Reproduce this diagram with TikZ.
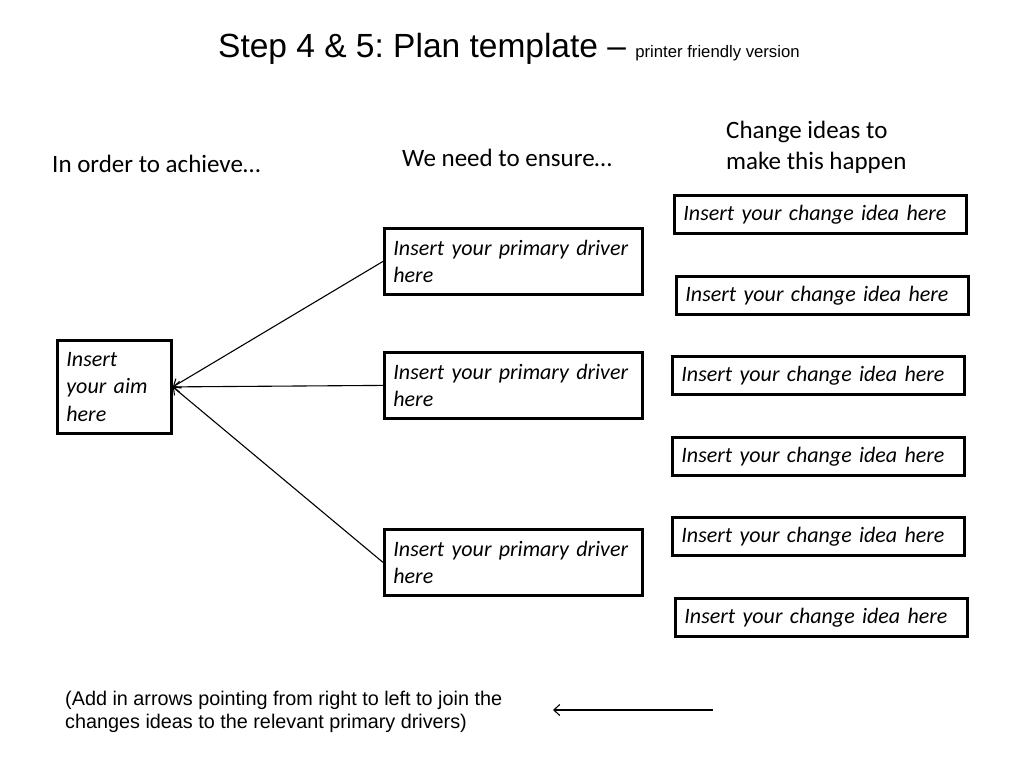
\documentclass[tikz,border=0pt]{standalone}
\usepackage{fontspec}
\setmainfont{Carlito}
\newfontfamily\arialfont{Liberation Sans}
\usetikzlibrary{arrows.meta}
\frenchspacing

\begin{document}
\begin{tikzpicture}[x=1pt, y=-1pt, box/.style={draw, line width=2.8pt, inner xsep=9pt, inner ysep=0pt, align=left, anchor=north west, font=\fontsize{22}{27.5}\selectfont\itshape}, aimbox/.style={box, text width=96pt, minimum height=93pt}, driver/.style={box, text width=240pt, minimum height=66pt}, idea/.style={box, text width=274pt, minimum height=38pt}, heading/.style={inner sep=0pt, align=left, font=\fontsize{25}{30.5}\selectfont}, note/.style={inner sep=0pt, align=left, anchor=north west, font=\arialfont\fontsize{19.8}{23}\selectfont}, n/.style={-{Straight Barb[length=6pt, width=11pt]}, line width=1.1pt}]
            \useasboundingbox (0,0) rectangle (1024,768);
            % title
            \node[inner sep=0pt, anchor=base west] (title) at (218,57) {\arialfont\fontsize{33.5}{40}\selectfont Step 4 \& 5: Plan template – {\fontsize{16.7}{20}\selectfont printer friendly version}};
            % headings
            \node[heading, anchor=base west] (achieve) at (52,172) {In order to achieve…};
            \node[heading, anchor=base west] (ensure) at (402,166) {We need to ensure…};
            \node[heading, anchor=north west] (ideas) at (726,121) {Change ideas to\\make this happen};
            % nodes
            \node[aimbox] (aim) at (56,339) {Insert\\your aim\\here};
            \node[driver] (drv1) at (383,227) {Insert your primary driver here};
            \node[driver] (drv2) at (383,351) {Insert your primary driver here};
            \node[driver] (drv3) at (383,528) {Insert your primary driver here};
            \node[idea] (idea1) at (673,194) {Insert your change idea here};
            \node[idea] (idea2) at (675,275) {Insert your change idea here};
            \node[idea] (idea3) at (671,355) {Insert your change idea here};
            \node[idea] (idea4) at (671,436) {Insert your change idea here};
            \node[idea] (idea5) at (671,516) {Insert your change idea here};
            \node[idea] (idea6) at (674,597) {Insert your change idea here};
            % edges
            \draw [n] (drv1.west) -- (aim.east);
            \draw [n] (drv2.west) -- (aim.east);
            \draw [n] (drv3.west) -- (aim.east);
            % note
            \node[note] (hint) at (65,691) {(Add in arrows pointing from right to left to join the\\changes ideas to the relevant primary drivers)};
            \coordinate (hintstart) at (713,710);
            \coordinate (hintend) at (553,710);
            \draw [n] (hintstart) -- (hintend);
        \end{tikzpicture}
\end{document}
